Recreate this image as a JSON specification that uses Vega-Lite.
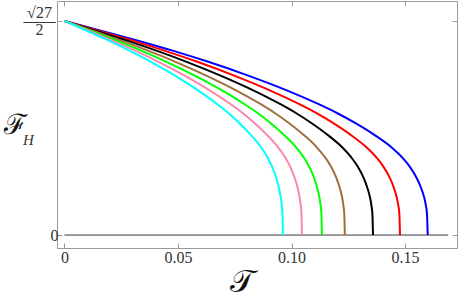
{
  "$schema": "https://vega.github.io/schema/vega-lite/v6.json",
  "width": 400,
  "height": 247,
  "autosize": {"type": "none"},
  "padding": {"left": 57, "top": 1, "right": 1, "bottom": 59},
  "config": {
    "view": {"stroke": "#9a9a9a", "strokeWidth": 1},
    "axis": {"domain": false, "grid": false, "tickColor": "#9a9a9a", "tickSize": -5, "labelFont": "Liberation Serif", "labelFontSize": 16, "labelColor": "#333333", "titleColor": "#111111"}
  },
  "datasets": {
    "curves": [
      {"F": 2.598, "cyan": 0, "pink": 0, "green": 0, "brown": 0, "black": 0, "red": 0, "blue": 0},
      {"F": 2.4806, "cyan": 0.00962, "pink": 0.01046, "green": 0.01134, "brown": 0.01235, "black": 0.01359, "red": 0.01478, "blue": 0.016},
      {"F": 2.3618, "cyan": 0.01924, "pink": 0.02092, "green": 0.02268, "brown": 0.0247, "black": 0.02718, "red": 0.02956, "blue": 0.032},
      {"F": 2.2348, "cyan": 0.02886, "pink": 0.03138, "green": 0.03402, "brown": 0.03705, "black": 0.04077, "red": 0.04434, "blue": 0.048},
      {"F": 2.0961, "cyan": 0.03848, "pink": 0.04184, "green": 0.04536, "brown": 0.0494, "black": 0.05436, "red": 0.05912, "blue": 0.064},
      {"F": 1.9441, "cyan": 0.0481, "pink": 0.0523, "green": 0.0567, "brown": 0.06175, "black": 0.06795, "red": 0.0739, "blue": 0.08},
      {"F": 1.7773, "cyan": 0.05772, "pink": 0.06276, "green": 0.06804, "brown": 0.0741, "black": 0.08154, "red": 0.08868, "blue": 0.096},
      {"F": 1.5876, "cyan": 0.06734, "pink": 0.07322, "green": 0.07938, "brown": 0.08645, "black": 0.09513, "red": 0.10346, "blue": 0.112},
      {"F": 1.4811, "cyan": 0.07215, "pink": 0.07845, "green": 0.08505, "brown": 0.09263, "black": 0.10193, "red": 0.11085, "blue": 0.12},
      {"F": 1.3601, "cyan": 0.07696, "pink": 0.08368, "green": 0.09072, "brown": 0.0988, "black": 0.10872, "red": 0.11824, "blue": 0.128},
      {"F": 1.2242, "cyan": 0.08177, "pink": 0.08891, "green": 0.09639, "brown": 0.10498, "black": 0.11552, "red": 0.12563, "blue": 0.136},
      {"F": 1.0649, "cyan": 0.08658, "pink": 0.09414, "green": 0.10206, "brown": 0.11115, "black": 0.12231, "red": 0.13302, "blue": 0.144},
      {"F": 0.94, "cyan": 0.08947, "pink": 0.09728, "green": 0.10546, "brown": 0.11486, "black": 0.12639, "red": 0.13745, "blue": 0.1488},
      {"F": 0.8337, "cyan": 0.09139, "pink": 0.09937, "green": 0.10773, "brown": 0.11733, "black": 0.12911, "red": 0.14041, "blue": 0.152},
      {"F": 0.6898, "cyan": 0.09331, "pink": 0.10146, "green": 0.11, "brown": 0.1198, "black": 0.13182, "red": 0.14337, "blue": 0.1552},
      {"F": 0.5923, "cyan": 0.09428, "pink": 0.10251, "green": 0.11113, "brown": 0.12103, "black": 0.13318, "red": 0.14484, "blue": 0.1568},
      {"F": 0.4611, "cyan": 0.09524, "pink": 0.10355, "green": 0.11227, "brown": 0.12227, "black": 0.13454, "red": 0.14632, "blue": 0.1584},
      {"F": 0.358, "cyan": 0.09572, "pink": 0.10408, "green": 0.11283, "brown": 0.12288, "black": 0.13522, "red": 0.14706, "blue": 0.1592},
      {"F": 0.2572, "cyan": 0.09601, "pink": 0.10439, "green": 0.11317, "brown": 0.12325, "black": 0.13563, "red": 0.1475, "blue": 0.15968},
      {"F": 0, "cyan": 0.0962, "pink": 0.1046, "green": 0.1134, "brown": 0.1235, "black": 0.1359, "red": 0.1478, "blue": 0.16}
    ],
    "baseline": [{"x": 0, "x2": 0.169, "y": 0}]
  },
  "layer": [
    {
      "data": {"name": "baseline"},
      "mark": {"type": "rule", "color": "#7a7a7a", "strokeWidth": 1},
      "encoding": {
        "x": {"field": "x", "type": "quantitative", "scale": {"domain": [-0.0033, 0.1729], "nice": false, "zero": false},
              "axis": {"orient": "top", "values": [0, 0.05, 0.1, 0.15], "labels": false, "title": null}},
        "x2": {"field": "x2"},
        "y": {"field": "y", "type": "quantitative", "scale": {"domain": [-0.157, 2.84], "nice": false, "zero": false},
              "axis": {"orient": "right", "values": [0, 2.598], "labels": false, "title": "H", "titleAngle": 0, "titleX": -429, "titleY": 138, "titleAlign": "center", "titleBaseline": "middle", "titleFont": "Liberation Serif", "titleFontStyle": "italic", "titleFontWeight": "normal", "titleFontSize": 15, "titleColor": "#333333"}}
      }
    },
    {
      "data": {"name": "baseline"},
      "mark": {"type": "rule", "color": "#7a7a7a", "strokeWidth": 1},
      "encoding": {
        "x": {"field": "x", "type": "quantitative", "axis": null},
        "x2": {"field": "x2"},
        "y": {"field": "y", "type": "quantitative",
              "axis": {"orient": "left", "values": [2.598], "ticks": false, "labelExpr": "['√27', '——', '2']", "labelFont": "Liberation Serif", "labelAlign": "center", "labelLineHeight": 8.5, "labelOffset": -8.5, "labelPadding": 18, "title": null}}
      }
    },
    {
      "data": {"name": "curves"},
      "transform": [{"fold": ["blue", "red", "black", "brown", "green", "pink", "cyan"], "as": ["curve", "T"]}],
      "mark": {"type": "line", "strokeWidth": 2, "interpolate": "monotone"},
      "encoding": {
        "x": {"field": "T", "type": "quantitative",
              "axis": {"orient": "bottom", "values": [0, 0.05, 0.1, 0.15], "labelExpr": "datum.value == 0 ? '0' : format(datum.value, '.2f')", "labelFont": "Liberation Serif", "labelPadding": 6, "title": "𝒯", "titleX": 185, "titleY": 33, "titleAlign": "center", "titleBaseline": "middle", "titleFont": "DejaVu Serif", "titleFontSize": 32, "titleFontWeight": "normal"}},
        "y": {"field": "F", "type": "quantitative",
              "axis": {"orient": "left", "values": [0, 2.598], "labelExpr": "datum.value == 0 ? '0' : ''", "labelFont": "Liberation Serif", "labelPadding": 4, "title": "ℱ", "titleAngle": 0, "titleX": -42, "titleY": 124, "titleAlign": "center", "titleBaseline": "middle", "titleFont": "DejaVu Serif", "titleFontSize": 28, "titleFontWeight": "normal"}},
        "color": {"field": "curve", "type": "nominal", "legend": null,
                  "scale": {"domain": ["blue", "red", "black", "brown", "green", "pink", "cyan"], "range": ["#0000ff", "#ff0000", "#000000", "#a0703c", "#00ff00", "#f789b0", "#00ffff"]}}
      }
    }
  ],
  "resolve": {"axis": {"x": "independent", "y": "independent"}}
}
